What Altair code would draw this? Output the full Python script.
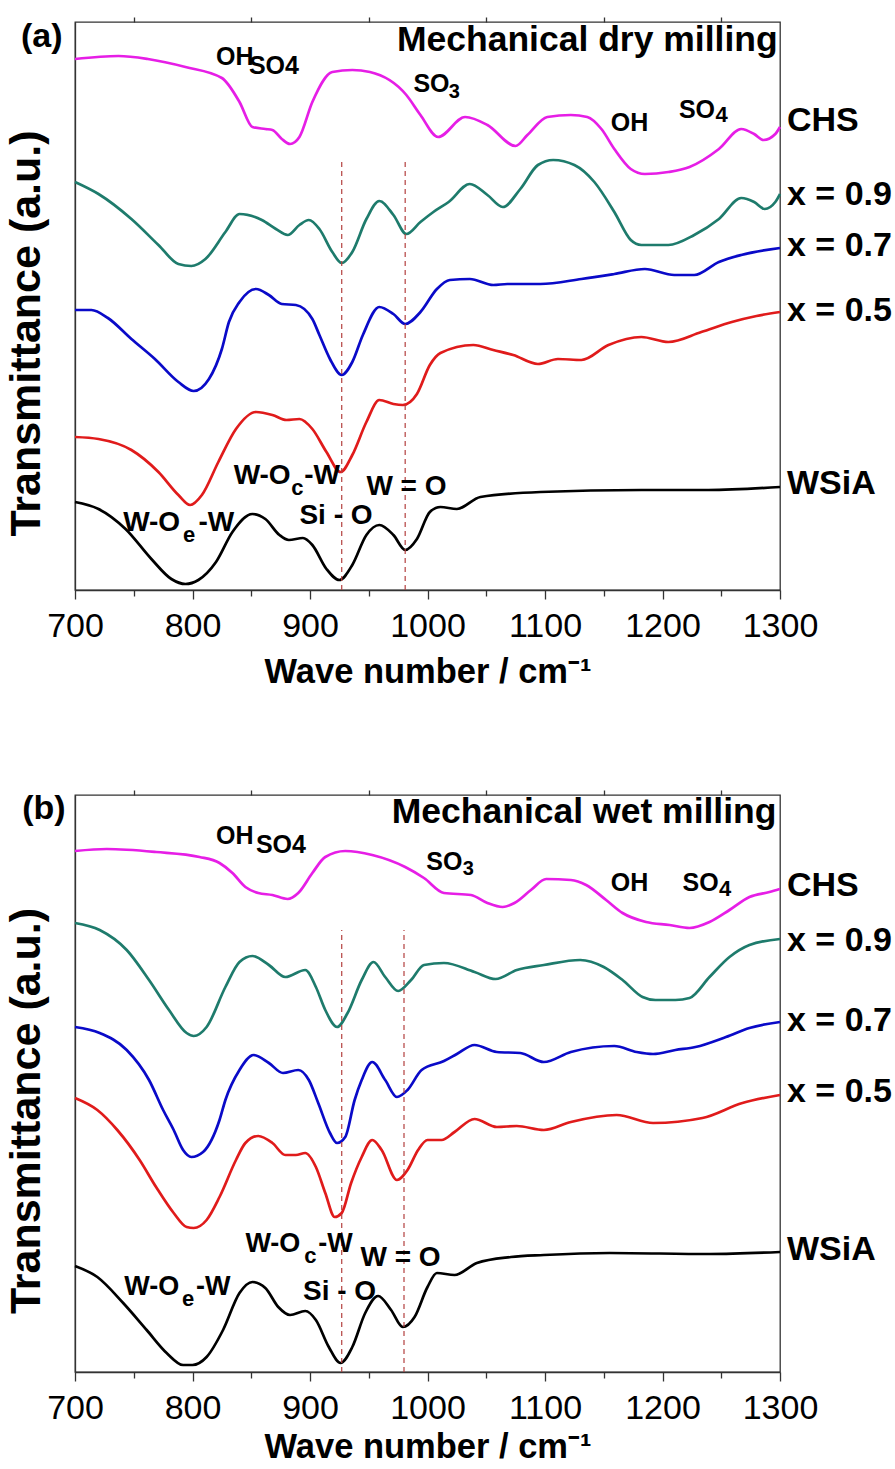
import altair as alt
import pandas as pd

FONT = "Liberation Sans"

SERIES = ["CHS", "x = 0.9", "x = 0.7", "x = 0.5", "WSiA"]
COLORS = ["#e61ee6", "#1e7b6c", "#0a0ac8", "#e01b1b", "#000000"]

# ---------------- panel (a): mechanical dry milling ----------------
A_CHS_W = [700, 737, 762, 794, 825, 840, 851, 862, 868, 876, 883, 891, 902, 919, 936, 951, 982, 994, 1009, 1032, 1051, 1075, 1085, 1102, 1122, 1136, 1148, 1159, 1173, 1185, 1205, 1223, 1248, 1267, 1278, 1286, 1296, 1300]
A_CHS_V = [531, 534, 531, 523, 512, 488, 463, 461, 460, 451, 446, 453, 488, 518, 520, 518, 495, 475, 453, 473, 465, 444, 455, 473, 475, 473, 461, 441, 421, 416, 418, 423, 441, 461, 456, 450, 456, 463]

A_X09_W = [700, 720, 748, 771, 788, 799, 811, 828, 840, 859, 871, 881, 891, 899, 908, 919, 927, 936, 948, 959, 971, 982, 994, 1005, 1018, 1036, 1051, 1064, 1079, 1094, 1107, 1125, 1142, 1159, 1173, 1182, 1205, 1227, 1248, 1267, 1278, 1287, 1296, 1300]
A_X09_V = [408, 396, 371, 345, 326, 324, 331, 358, 376, 370, 361, 355, 365, 370, 361, 338, 327, 338, 371, 389, 375, 356, 368, 378, 388, 406, 395, 383, 401, 425, 430, 425, 408, 378, 350, 345, 345, 355, 371, 392, 388, 381, 388, 396]

A_X07_W = [700, 714, 728, 748, 768, 788, 801, 814, 825, 831, 840, 854, 865, 876, 888, 902, 908, 917, 927, 936, 945, 959, 971, 981, 994, 1008, 1019, 1036, 1056, 1068, 1096, 1131, 1159, 1185, 1210, 1227, 1248, 1267, 1300]
A_X07_V = [280, 280, 272, 251, 231, 208, 199, 211, 241, 268, 288, 301, 295, 286, 285, 271, 255, 231, 215, 228, 255, 283, 276, 266, 278, 301, 310, 311, 305, 306, 306, 311, 316, 321, 315, 315, 328, 335, 342]

A_X05_W = [700, 720, 748, 771, 788, 798, 808, 822, 837, 854, 868, 880, 891, 902, 914, 926, 936, 948, 959, 971, 979, 991, 1002, 1011, 1039, 1056, 1073, 1094, 1111, 1131, 1154, 1182, 1205, 1233, 1259, 1280, 1300]
A_X05_V = [153, 151, 140, 118, 95, 85, 95, 128, 161, 178, 175, 170, 171, 161, 138, 118, 135, 168, 190, 186, 185, 196, 225, 237, 245, 240, 235, 226, 231, 230, 245, 253, 248, 258, 268, 274, 278]

A_WSIA_W = [700, 720, 743, 765, 782, 794, 805, 820, 834, 851, 862, 874, 882, 894, 902, 914, 925, 936, 948, 959, 971, 981, 991, 1002, 1011, 1025, 1045, 1096, 1182, 1239, 1300]
A_WSIA_V = [88, 81, 61, 31, 11, 6, 10, 28, 58, 76, 71, 55, 50, 52, 45, 21, 10, 25, 55, 65, 55, 40, 51, 78, 83, 81, 93, 98, 100, 100, 103]

A_DASH_W = [927, 981]
A_DASH_TOP = 428
A_LABEL_V = [469, 395, 344, 279, 106]
A_ANN_T = ["OH", "SO4", "SO", "3", "OH", "SO", "4", "W-O", "e", "-W", "W-O", "c", "-W", "Si - O", "W = O", "(a)"]
A_ANN_W = [820, 848, 988, 1018, 1156, 1214, 1245, 741, 792, 805, 835, 884, 895, 891, 948, 654]
A_ANN_V = [533, 524, 506, 498, 467, 480, 475, 67, 55, 67, 114, 102, 114, 74, 103, 553]
A_ANN_FS = [25, 25, 25, 20, 25, 25, 22, 28, 22, 28, 28, 22, 28, 28, 28, 34]
A_TITLE = "Mechanical dry milling"
A_TITLE_W, A_TITLE_V = 1298, 550

# ---------------- panel (b): mechanical wet milling ----------------
B_CHS_W = [700, 727, 769, 806, 823, 834, 845, 856, 868, 881, 890, 902, 913, 930, 953, 981, 997, 1014, 1037, 1051, 1064, 1074, 1088, 1101, 1122, 1135, 1152, 1166, 1186, 1206, 1223, 1240, 1257, 1274, 1291, 1300]
B_CHS_V = [521, 523, 520, 515, 509, 499, 485, 479, 477, 473, 479, 499, 515, 521, 517, 505, 494, 479, 477, 469, 465, 469, 482, 493, 492, 487, 472, 459, 450, 447, 444, 450, 462, 475, 480, 483]

B_X09_W = [700, 721, 744, 763, 780, 795, 801, 812, 828, 840, 851, 865, 879, 896, 905, 913, 923, 932, 944, 954, 964, 975, 986, 997, 1014, 1040, 1058, 1076, 1099, 1130, 1150, 1166, 1183, 1194, 1211, 1223, 1240, 1257, 1274, 1300]
B_X09_V = [449, 442, 422, 392, 362, 339, 336, 345, 385, 410, 416, 407, 395, 402, 385, 362, 345, 359, 392, 410, 395, 381, 392, 407, 409, 400, 393, 402, 407, 412, 405, 392, 375, 372, 372, 374, 395, 415, 427, 433]

B_X07_W = [700, 721, 744, 763, 775, 784, 792, 799, 809, 823, 828, 840, 852, 865, 877, 890, 899, 907, 917, 923, 930, 938, 944, 953, 964, 974, 983, 995, 1014, 1025, 1040, 1059, 1079, 1099, 1122, 1159, 1178, 1192, 1211, 1228, 1254, 1274, 1300]
B_X07_V = [345, 339, 322, 292, 262, 242, 222, 215, 220, 252, 272, 302, 317, 309, 299, 302, 292, 269, 239, 229, 235, 272, 292, 310, 292, 275, 282, 302, 311, 318, 327, 320, 319, 310, 320, 326, 320, 318, 322, 325, 335, 344, 350]

B_X05_W = [700, 719, 736, 755, 769, 784, 795, 801, 812, 823, 837, 845, 856, 868, 879, 888, 896, 905, 913, 921, 927, 935, 944, 953, 961, 974, 983, 992, 1000, 1012, 1023, 1040, 1059, 1076, 1099, 1122, 1161, 1192, 1234, 1268, 1300]
B_X05_V = [274, 262, 242, 212, 185, 159, 145, 144, 152, 175, 212, 229, 236, 229, 217, 217, 219, 205, 179, 155, 159, 189, 215, 232, 222, 192, 202, 222, 232, 232, 240, 253, 245, 246, 242, 250, 257, 249, 254, 269, 277]

B_WSIA_W = [700, 719, 741, 761, 778, 792, 800, 812, 826, 840, 851, 862, 873, 883, 896, 905, 916, 926, 936, 947, 958, 969, 979, 989, 1000, 1008, 1023, 1042, 1071, 1099, 1155, 1240, 1300]
B_WSIA_V = [106, 95, 69, 42, 19, 7, 7, 15, 42, 79, 90, 84, 65, 57, 61, 52, 25, 9, 25, 59, 76, 62, 45, 55, 85, 99, 97, 109, 115, 117, 119, 118, 120]

B_DASH_W = [927, 980]
B_DASH_TOP = 442
B_LABEL_V = [486, 431, 351, 280, 122]
B_ANN_T = ["OH", "SO4", "SO", "3", "OH", "SO", "4", "W-O", "e", "-W", "W-O", "c", "-W", "Si - O", "W = O", "(b)"]
B_ANN_W = [820, 854, 999, 1030, 1156, 1217, 1248, 742, 791, 803, 845, 895, 907, 894, 943, 655]
B_ANN_V = [536, 527, 510, 503, 489, 489, 483, 85, 73, 85, 128, 116, 128, 80, 114, 563]
B_ANN_FS = [25, 25, 25, 20, 25, 25, 22, 27, 22, 27, 27, 22, 27, 28, 28, 34]
B_TITLE = "Mechanical wet milling"
B_TITLE_W, B_TITLE_V = 1297, 560

MAJOR = [700, 800, 900, 1000, 1100, 1200, 1300]
MINOR = [750, 850, 950, 1050, 1150, 1250]


def lines_frame(curves):
    rows = []
    for name, ws, vs in curves:
        for w, v in zip(ws, vs):
            rows.append({"series": name, "w": w, "v": v})
    return pd.DataFrame(rows)


def panel(curves, dash_w, dash_top, label_v, ann_t, ann_w, ann_v, ann_fs,
          title, title_w, title_v, width, height, ymax, title_y):
    xs = alt.Scale(domain=[700, 1300], nice=False, zero=False)
    ys = alt.Scale(domain=[0, ymax], nice=False, zero=False)

    lines = alt.Chart(lines_frame(curves)).mark_line(
        interpolate="monotone", strokeWidth=2.7
    ).encode(
        x=alt.X("w:Q", scale=xs, axis=alt.Axis(
            values=MAJOR, format="d", title="Wave number / cm⁻¹",
            tickSize=9, labelPadding=10, labelFontSize=34, labelFlush=False,
            labelOverlap=False,
            titleFontSize=34.5, titleFontWeight="bold", titleY=title_y,
            titleBaseline="alphabetic", grid=False)),
        y=alt.Y("v:Q", scale=ys, axis=alt.Axis(
            title="Transmittance (a.u.)", labels=False, ticks=False,
            grid=False, titleFontSize=43, titleFontWeight="bold",
            titleX=-49, titleY=height / 2 + 27, titleAngle=270,
            titleAlign="center", titleBaseline="middle")),
        color=alt.Color("series:N", scale=alt.Scale(domain=SERIES, range=COLORS), legend=None),
    )

    dash_df = pd.DataFrame({"w": dash_w, "v0": [0] * len(dash_w), "v1": [dash_top] * len(dash_w)})
    dashes = alt.Chart(dash_df).mark_rule(
        strokeDash=[5, 4], color="#b3403f", strokeWidth=1.2
    ).encode(
        x=alt.X("w:Q", scale=xs, axis=alt.Axis(
            orient="bottom", values=MINOR, labels=False, title=None,
            tickSize=6, domain=False, grid=False)),
        y=alt.Y("v0:Q", scale=ys, axis=None),
        y2="v1:Q",
    )

    ann_df = pd.DataFrame({"t": ann_t, "w": ann_w, "v": ann_v, "fs": ann_fs})
    ann = alt.Chart(ann_df).mark_text(
        align="left", baseline="middle", font=FONT, fontWeight="bold", color="black"
    ).encode(
        x=alt.X("w:Q", scale=xs, axis=alt.Axis(
            orient="top", values=MINOR, labels=False, title=None,
            tickSize=5, domain=False, grid=False)),
        y=alt.Y("v:Q", scale=ys, axis=None),
        text="t:N",
        size=alt.Size("fs:Q", scale=None, legend=None),
    )

    lab_df = pd.DataFrame({"t": SERIES, "w": [1300] * 5, "v": label_v})
    labs = alt.Chart(lab_df).mark_text(
        align="left", baseline="middle", dx=7, font=FONT, fontWeight="bold",
        fontSize=34, color="black"
    ).encode(
        x=alt.X("w:Q", scale=xs, axis=None),
        y=alt.Y("v:Q", scale=ys, axis=None),
        text="t:N",
    )

    tdf = pd.DataFrame({"t": [title], "w": [title_w], "v": [title_v]})
    ttl = alt.Chart(tdf).mark_text(
        align="right", baseline="middle", font=FONT, fontWeight="bold",
        fontSize=35.5, color="black"
    ).encode(
        x=alt.X("w:Q", scale=xs, axis=None),
        y=alt.Y("v:Q", scale=ys, axis=None),
        text="t:N",
    )

    return alt.layer(lines, dashes, ann, labs, ttl).resolve_axis(
        x="independent", y="independent"
    ).properties(width=width, height=height)


pa = panel(
    [("CHS", A_CHS_W, A_CHS_V), ("x = 0.9", A_X09_W, A_X09_V),
     ("x = 0.7", A_X07_W, A_X07_V), ("x = 0.5", A_X05_W, A_X05_V),
     ("WSiA", A_WSIA_W, A_WSIA_V)],
    A_DASH_W, A_DASH_TOP, A_LABEL_V, A_ANN_T, A_ANN_W, A_ANN_V, A_ANN_FS,
    A_TITLE, A_TITLE_W, A_TITLE_V, 705, 568, 568, 92)

pb = panel(
    [("CHS", B_CHS_W, B_CHS_V), ("x = 0.9", B_X09_W, B_X09_V),
     ("x = 0.7", B_X07_W, B_X07_V), ("x = 0.5", B_X05_W, B_X05_V),
     ("WSiA", B_WSIA_W, B_WSIA_V)],
    B_DASH_W, B_DASH_TOP, B_LABEL_V, B_ANN_T, B_ANN_W, B_ANN_V, B_ANN_FS,
    B_TITLE, B_TITLE_W, B_TITLE_V, 705, 577, 577, 85)

chart = alt.vconcat(pa, pb, spacing=98).properties(
    padding={"left": 4, "top": 15, "right": 2, "bottom": 2},
    background="white",
).configure_view(
    stroke="#333333", strokeWidth=1.3
).configure_axis(
    labelFont=FONT, titleFont=FONT, labelColor="black", titleColor="black",
    domainColor="#333333", tickColor="#333333", domainWidth=1.3, tickWidth=1.3,
)

chart.save("out.html", embed_options={"renderer": "svg", "actions": False})
